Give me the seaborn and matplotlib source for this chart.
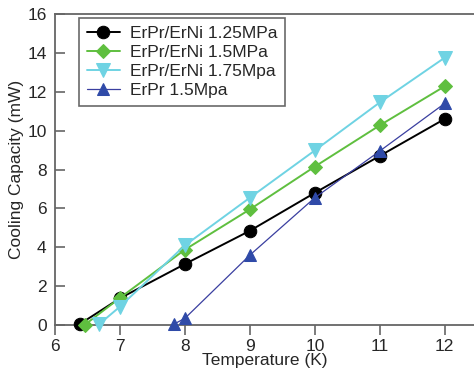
import matplotlib
matplotlib.use("Agg")
import matplotlib.pyplot as plt
import seaborn as sns
import pandas as pd

# Data
x_erni125 = [6.38, 7, 8, 9, 10, 11, 12]
y_erni125 = [0.05, 1.38, 3.14, 4.85, 6.8, 8.7, 10.6]
x_erni15 = [6.46, 7, 8, 9, 10, 11, 12]
y_erni15 = [0.02, 1.4, 3.88, 5.95, 8.15, 10.27, 12.28]
x_erni175 = [6.68, 7, 8, 9, 10, 11, 12]
y_erni175 = [0.05, 0.95, 4.1, 6.55, 8.98, 11.45, 13.75]
x_erpr15 = [7.83, 8, 9, 10, 11, 12]
y_erpr15 = [0.05, 0.35, 3.6, 6.55, 8.95, 11.4]

labels = ["ErPr/ErNi 1.25MPa", "ErPr/ErNi 1.5MPa", "ErPr/ErNi 1.75Mpa", "ErPr 1.5Mpa"]
colors = ["#000000", "#5fbf3f", "#6fd3e3", "#2f4aa8"]
line_colors = ["#000000", "#5fbf3f", "#6fd3e3", "#3a3fa0"]
markers = ["o", "D", "v", "^"]
msizes = [9, 7, 9.5, 9]
lws = [1.4, 1.4, 1.4, 0.9]

sns.set_style("ticks")
plt.rcParams["font.family"] = ["Liberation Sans", "DejaVu Sans"]

fig = plt.figure(figsize=(4.74, 3.75), dpi=100)
ax = fig.add_axes([0.116, 0.133, 0.884, 0.83])

series = [(x_erni125, y_erni125), (x_erni15, y_erni15), (x_erni175, y_erni175), (x_erpr15, y_erpr15)]
for (xs, ys), lab, c, lc, m, ms, lw in zip(series, labels, colors, line_colors, markers, msizes, lws):
    df = pd.DataFrame({"T": xs, "P": ys})
    sns.lineplot(data=df, x="T", y="P", ax=ax, color=lc, linewidth=lw, marker=m,
                 markersize=ms, markerfacecolor=c, markeredgecolor=c, label=lab,
                 clip_on=False, zorder=3)

ax.set_xlim(6, 12.45)
ax.set_ylim(0, 16)
ax.set_xticks([6, 7, 8, 9, 10, 11, 12])
ax.set_yticks([0, 2, 4, 6, 8, 10, 12, 14, 16])
ax.set_xlabel("Temperature (K)", fontsize=12.5, labelpad=-1)
ax.set_ylabel("Cooling Capacity (mW)", fontsize=12.5, labelpad=2)
ax.tick_params(axis="x", direction="out", length=7, width=1.2, color="#666666", labelsize=12.5, pad=3)
ax.tick_params(axis="y", direction="in", length=7, width=1.2, color="#666666", labelsize=12.5, pad=6)
for s in ["left", "bottom", "top"]:
    ax.spines[s].set_color("#666666")
    ax.spines[s].set_linewidth(1.3)
ax.spines["right"].set_visible(False)

leg = ax.legend(loc="upper left", bbox_to_anchor=(0.057, 0.986), fontsize=12.5, frameon=True,
                fancybox=False, edgecolor="#444444", handlelength=1.9, borderpad=0.45,
                labelspacing=0.22, handletextpad=0.6, borderaxespad=0.0)
leg.get_frame().set_linewidth(1.2)

fig.savefig("out.png", dpi=100)
